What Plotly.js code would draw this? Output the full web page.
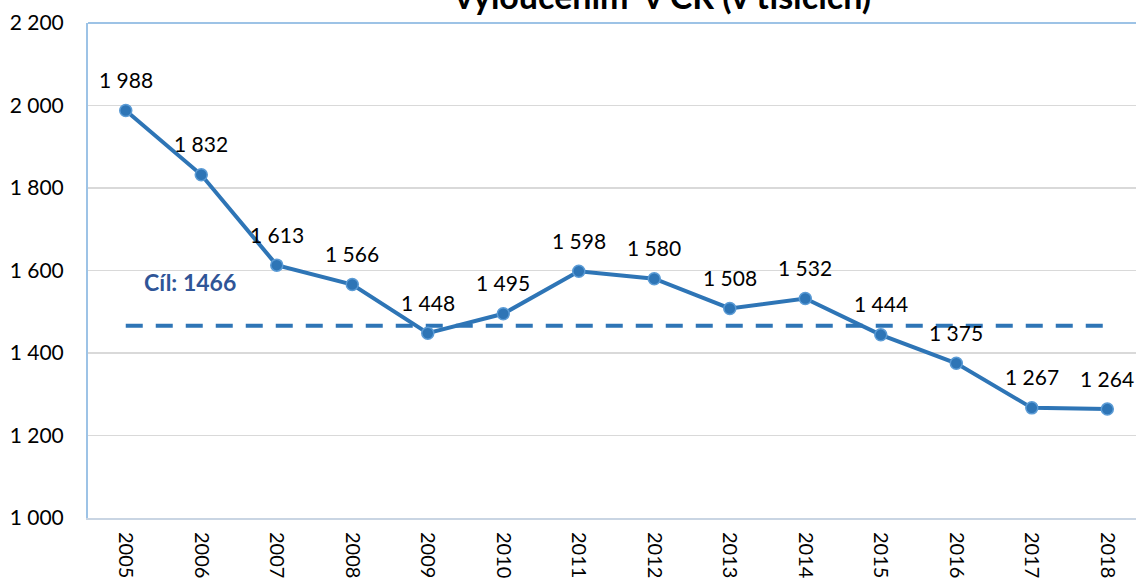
<!DOCTYPE html>
<html>
<head>
<meta charset="utf-8">
<script src="https://cdn.plot.ly/plotly-3.0.1.min.js"></script>
<style>html,body{margin:0;padding:0;background:#fff;}#chart{width:1136px;height:581px;}</style>
</head>
<body>
<div id="chart"></div>
<script>
const years = ["2005","2006","2007","2008","2009","2010","2011","2012","2013","2014","2015","2016","2017","2018"];
const values = [1988,1832,1613,1566,1448,1495,1598,1580,1508,1532,1444,1375,1267,1264];
const target = 1466;
const titleText = "vyloučením  v ČR (v tisících)";
const targetLabel = "Cíl: " + target;

function fmt(v){ return String(v).replace(/\B(?=(\d{3})+(?!\d))/g, " "); }

const font = "Lato, 'Open Sans', sans-serif";
const blue = "#2e75b6";

const traces = [
  {
    x: years, y: years.map(() => target), type: "scatter", mode: "lines",
    line: {color: blue, width: 4, dash: "17px,13px"}, hoverinfo: "skip"
  },
  {
    x: years, y: values, type: "scatter", mode: "lines+markers",
    line: {color: blue, width: 4},
    marker: {color: blue, size: 12, line: {color: "#5b9bd5", width: 1.5}}
  }
];

const annotations = years.map((yr, i) => ({
  x: i, y: values[i], xref: "x", yref: "y", text: fmt(values[i]),
  showarrow: false, yanchor: "middle", xanchor: "center", yshift: 31,
  font: {family: font, size: 21, color: "#000"}
}));
annotations.push({
  x: 0.85, y: 1571, xref: "x", yref: "y", text: "<b>" + targetLabel + "</b>",
  showarrow: false, xanchor: "center", yanchor: "middle",
  font: {family: font, size: 23, color: "#2f5597"}
});
annotations.push({
  x: (663 - 88) / (1136 - 88), y: 1 + (23 - 18) / 495, xref: "paper", yref: "paper",
  text: "<b>" + titleText + "</b>",
  showarrow: false, xanchor: "center", yanchor: "bottom",
  font: {family: font, size: 34, color: "#000"}
});

const layout = {
  width: 1136, height: 581,
  margin: {l: 88, r: 0, t: 23, b: 63, pad: 0},
  paper_bgcolor: "#fff", plot_bgcolor: "#fff",
  showlegend: false,
  separators: ", ",
  xaxis: {
    type: "category", range: [-0.5, 13.38], showgrid: false,
    showline: true, linecolor: "#c9d5e3", linewidth: 2,
    tickangle: 90, ticks: "", ticklabelstandoff: 8,
    tickfont: {family: font, size: 20, color: "#000"}, zeroline: false
  },
  yaxis: {
    range: [1000, 2200], dtick: 200, tick0: 1000, tickformat: ",d",
    showgrid: true, gridcolor: "#d9d9d9", gridwidth: 1.3,
    showline: true, linecolor: "#9dc3e6", linewidth: 2,
    ticks: "", ticklabelstandoff: 18, zeroline: false,
    tickfont: {family: font, size: 21, color: "#000"}
  },
  shapes: [
    {type: "line", xref: "paper", yref: "paper", x0: 0, x1: 1, y0: 1, y1: 1,
     line: {color: "#9dc3e6", width: 2}}
  ],
  annotations: annotations
};

Plotly.newPlot("chart", traces, layout, {displayModeBar: false, staticPlot: true});
</script>
</body>
</html>
